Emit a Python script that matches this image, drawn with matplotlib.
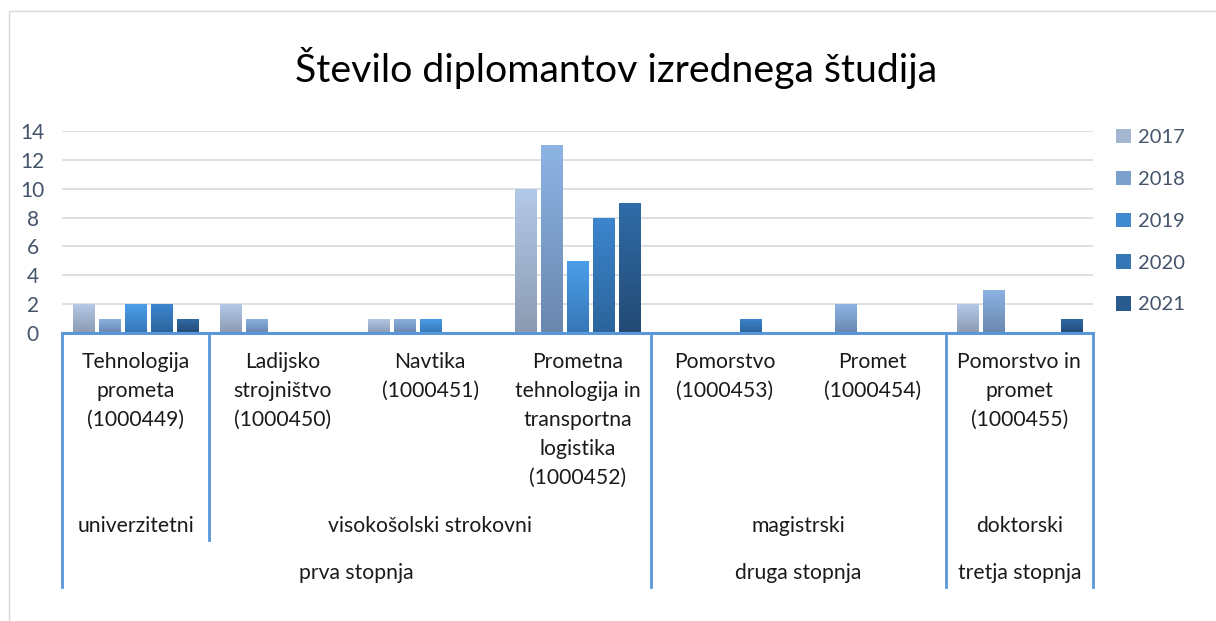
import numpy as np
import matplotlib
matplotlib.use("Agg")
import matplotlib.pyplot as plt
from matplotlib.colors import LinearSegmentedColormap
from matplotlib.patches import Patch, Rectangle
from matplotlib.transforms import blended_transform_factory

# ---------------- data ----------------
categories = [
    "Tehnologija\nprometa\n(1000449)",
    "Ladijsko\nstrojništvo\n(1000450)",
    "Navtika\n(1000451)",
    "Prometna\ntehnologija in\ntransportna\nlogistika\n(1000452)",
    "Pomorstvo\n(1000453)",
    "Promet\n(1000454)",
    "Pomorstvo in\npromet\n(1000455)",
]
years = ["2017", "2018", "2019", "2020", "2021"]
v2017 = [2, 2, 1, 10, 0, 0, 2]
v2018 = [1, 1, 1, 13, 0, 2, 3]
v2019 = [2, 0, 1, 5, 0, 0, 0]
v2020 = [2, 0, 0, 8, 1, 0, 0]
v2021 = [1, 0, 0, 9, 0, 0, 1]
series = [v2017, v2018, v2019, v2020, v2021]

# second level: (label, first category index, last category index)
level2 = [("univerzitetni", 0, 0), ("visokošolski strokovni", 1, 3),
          ("magistrski", 4, 5), ("doktorski", 6, 6)]
# third level
level3 = [("prva stopnja", 0, 3), ("druga stopnja", 4, 5), ("tretja stopnja", 6, 6)]

title = "Število diplomantov izrednega študija"
yticks = [0, 2, 4, 6, 8, 10, 12, 14]

# ---------------- style ----------------
top_colors = ["#b4c9e8", "#8db4e4", "#4b9ee9", "#3c86ce", "#306ca8"]
bot_colors = ["#8b9bb2", "#6a87ae", "#3677b6", "#2c649c", "#234a74"]
mid_colors = ["#a3b6d2", "#7ca0cc", "#408ad0", "#3476b6", "#295b8e"]
axis_blue = "#5a96d8"
tick_col = "#44546a"
FONT = ["Lato", "DejaVu Sans"]
plt.rcParams["font.family"] = FONT

fig = plt.figure(figsize=(12.16, 6.21), dpi=100)
fig.patch.set_facecolor("white")

# light chart frame
fig.add_artist(Rectangle((9 / 1216, -0.1), 1.2, 1 - 11 / 621 + 0.1,
                         transform=fig.transFigure, fill=False,
                         edgecolor="#d9d9d9", linewidth=1.0))

ax = fig.add_axes([62 / 1216, 1 - 333 / 621, (1093 - 62) / 1216, (333 - 131) / 621])
n = len(categories)
x = np.arange(n)
ax.set_xlim(-0.5, n - 0.5)
ax.set_ylim(0, 14)

for s in ax.spines.values():
    s.set_visible(False)
ax.set_xticks([])
ax.set_yticks(yticks)
ax.tick_params(axis="y", length=0, pad=21, labelsize=15, labelcolor=tick_col)
for lab in ax.get_yticklabels():
    lab.set_horizontalalignment("center")
ax.yaxis.grid(True, color="#d9dde3", linewidth=1.3)
ax.set_axisbelow(True)

step = 0.1765
bw = 0.145
grad = np.linspace(0, 1, 64).reshape(-1, 1)
for i, (vals, tc, bc, mc, yr) in enumerate(zip(series, top_colors, bot_colors, mid_colors, years)):
    pos = x + (i - 2) * step
    bars = ax.bar(pos, vals, width=bw, color=mc, label=yr, zorder=2)
    cmap = LinearSegmentedColormap.from_list("g%d" % i, [bc, tc])
    for r in bars:
        h = r.get_height()
        if h <= 0:
            continue
        x0 = r.get_x()
        im = ax.imshow(grad, cmap=cmap, origin="lower", aspect="auto",
                       extent=[x0, x0 + r.get_width(), 0, h], zorder=3,
                       interpolation="bilinear")
        im.set_clip_path(r)
ax.set_xlim(-0.5, n - 0.5)
ax.set_ylim(0, 14)

# x axis line
trans = blended_transform_factory(ax.transData, ax.transAxes)
ax.plot([-0.5, n - 0.5], [0, 0], color=axis_blue, lw=2.2, transform=trans,
        clip_on=False, zorder=5)

# hierarchical labels
axh = 333 - 131  # axes height in px
def ypx(p):
    return -(p - 333) / axh

label_fs = 15.2
line_h = 29
for i, cat in enumerate(categories):
    for j, line in enumerate(cat.split("\n")):
        ax.text(i, ypx(362 + j * line_h), line, transform=trans, ha="center",
                va="center", fontsize=label_fs, color="#1a1a1a")

for lab, a, b in level2:
    ax.text((a + b) / 2, ypx(526), lab, transform=trans, ha="center",
            va="center", fontsize=label_fs, color="#1a1a1a")
for lab, a, b in level3:
    ax.text((a + b) / 2, ypx(573), lab, transform=trans, ha="center",
            va="center", fontsize=label_fs, color="#1a1a1a")

# separators
outer = set()
for _, a, b in level3:
    outer.add(a - 0.5)
    outer.add(b + 0.5)
inner = set()
for _, a, b in level2:
    inner.add(a - 0.5)
    inner.add(b + 0.5)
inner -= outer
for xs in sorted(outer):
    ax.plot([xs, xs], [0, ypx(587)], color=axis_blue, lw=2.0, transform=trans,
            clip_on=False, zorder=5)
for xs in sorted(inner):
    ax.plot([xs, xs], [0, ypx(540)], color=axis_blue, lw=2.0, transform=trans,
            clip_on=False, zorder=5)

# title
fig.text(616 / 1216, 1 - 68 / 621, title, ha="center", va="center",
         fontsize=28.3, color="#000000")

# legend
handles = [Patch(facecolor=c, edgecolor="none") for c in mid_colors]
leg = fig.legend(handles, years, loc="upper left",
                 bbox_to_anchor=(1108 / 1216, 1 - 121 / 621), frameon=False,
                 fontsize=14.5, labelcolor=tick_col, handlelength=0.72,
                 handleheight=0.72, handletextpad=0.35, labelspacing=1.22,
                 borderaxespad=0)

fig.savefig("out.png", dpi=100, facecolor="white")
